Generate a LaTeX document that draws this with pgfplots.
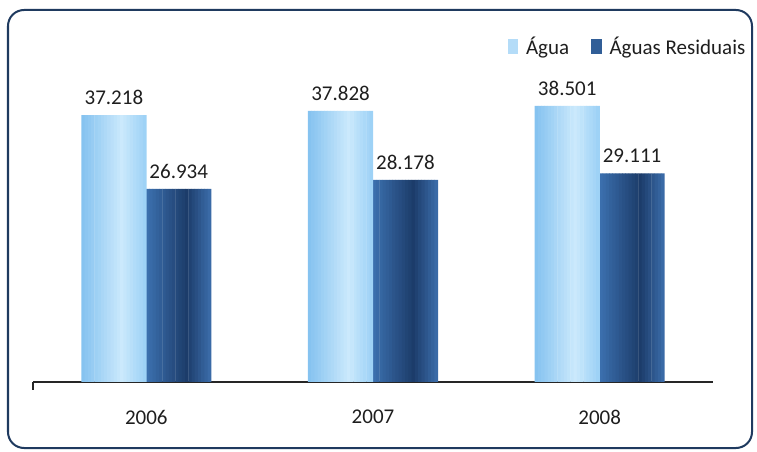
\documentclass[border=0pt]{standalone}
\usepackage{fontspec}
\setmainfont{Carlito}
\usepackage{pgfplots}
\usepackage{pgfplotstable}
\pgfplotsset{compat=1.18}

\definecolor{lightL}{HTML}{86C3F0}
\definecolor{lightM}{HTML}{CBE9FC}
\definecolor{lightR}{HTML}{9ED2F6}
\definecolor{darkL}{HTML}{3B6FAD}
\definecolor{darkM}{HTML}{1C3C6A}
\definecolor{darkR}{HTML}{3A6AA6}
\definecolor{frame}{HTML}{1F3A5F}
\definecolor{txt}{HTML}{1E1E1E}

% strip colours for the cylinder-like gradient (20 strips per bar)
\foreach \k in {0,...,19}{%
  \ifnum\k<13
    \pgfmathtruncatemacro\p{100*\k/12}%
    \xglobal\colorlet{light\k}{lightM!\p!lightL}%
    \xglobal\colorlet{dark\k}{darkM!\p!darkL}%
  \else
    \pgfmathtruncatemacro\p{100*(\k-12)/7}%
    \xglobal\colorlet{light\k}{lightR!\p!lightM}%
    \xglobal\colorlet{dark\k}{darkR!\p!darkM}%
  \fi
}

\pgfplotstableread{
x y lab
0 37.218 37.218
1 37.828 37.828
2 38.501 38.501
}\agua
\pgfplotstableread{
x y lab
0 26.934 26.934
1 28.178 28.178
2 29.111 29.111
}\residuais

\begin{document}
\fontsize{10.5}{12.5}\selectfont
\begin{tikzpicture}
  \useasboundingbox (0,0) rectangle (378.5pt,225.5pt);
  \draw[frame, line width=1pt, rounded corners=8pt] (4pt,1.5pt) rectangle (376pt,220.5pt);

  \begin{axis}[
    at={(16.5pt,34.5pt)},
    anchor=south west,
    width=340pt,
    height=176pt,
    scale only axis,
    xmin=-0.5, xmax=2.5,
    ymin=0, ymax=49.1,
    hide y axis,
    axis x line*=bottom,
    x axis line style={line width=1pt, black!85},
    xtick={0,1,2},
    xticklabels={2006,2007,2008},
    xtick style={draw=none},
    xticklabel style={yshift=-6pt, text=txt},
    /pgf/number format/assume math mode=true,
    ybar,
    legend style={at={(1.054,0.952)}, anchor=east, draw=none, fill=none,
      inner sep=0pt, text=txt, /tikz/every even column/.append style={column sep=9pt}},
    legend columns=2,
    clip=false,
    ]
    \addlegendimage{legend image code/.code={\fill[light8] (0pt,-3.5pt) rectangle (4.5pt,3.5pt); \path[draw=none, fill=none] (0pt,0pt) rectangle (7pt,0.1pt);}}
    \addlegendentry{Água}
    \addlegendimage{legend image code/.code={\fill[dark4] (0pt,-3.5pt) rectangle (5pt,3.5pt); \path[draw=none, fill=none] (0pt,0pt) rectangle (7pt,0.1pt);}}
    \addlegendentry{Águas Residuais}

    \pgfplotsinvokeforeach{0,...,19}{
      \addplot[forget plot, draw=none, fill=light#1, bar width=0.016,
        bar shift={-0.286+(#1+0.5)*0.0143}] table[x=x, y=y] {\agua};
      \addplot[forget plot, draw=none, fill=dark#1, bar width=0.016,
        bar shift={(#1+0.5)*0.0143}] table[x=x, y=y] {\residuais};
    }

    % value labels
    \addplot[forget plot, draw=none, fill=none, bar width=0.286, bar shift=-0.143,
      point meta=explicit symbolic, nodes near coords,
      nodes near coords style={anchor=south, yshift=1.5pt, text=txt}]
      table[x=x, y=y, meta=lab] {\agua};
    \addplot[forget plot, draw=none, fill=none, bar width=0.286, bar shift=0.143,
      point meta=explicit symbolic, nodes near coords,
      nodes near coords style={anchor=south, yshift=1.5pt, text=txt}]
      table[x=x, y=y, meta=lab] {\residuais};

    \draw[line width=1pt, black!85] (axis cs:-0.5,0) -- ([yshift=-4pt]axis cs:-0.5,0);
  \end{axis}
\end{tikzpicture}
\end{document}
